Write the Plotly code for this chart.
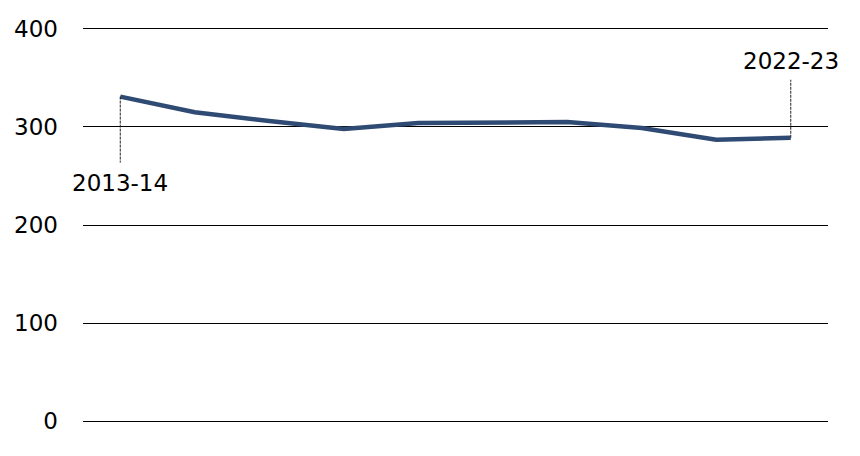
import plotly.graph_objects as go

years = ["2013-14", "2014-15", "2015-16", "2016-17", "2017-18",
         "2018-19", "2019-20", "2020-21", "2021-22", "2022-23"]
values = [331, 315, 306, 298, 304, 305, 305, 299, 287, 289]
y_ticks = [0, 100, 200, 300, 400]

line_col = "#2F4B73"
font = dict(family="DejaVu Sans, Liberation Sans, Arial, sans-serif", size=23, color="#000000")

fig = go.Figure()
fig.add_trace(go.Scatter(
    x=years, y=values, mode="lines",
    line=dict(color=line_col, width=4.5),
    hoverinfo="skip",
))

# dashed leaders for the first and last label
first, last = 0, len(years) - 1
for i, y0, y1 in [(first, 0, -66), (last, 0, 58)]:
    fig.add_shape(
        type="line", xref="x", yref="y", ysizemode="pixel",
        x0=years[i], x1=years[i], yanchor=values[i], y0=y0, y1=y1,
        line=dict(color="#222222", width=1, dash="3px,1px"),
    )

fig.add_annotation(x=years[first], y=values[first], text=years[first],
                   showarrow=False, yshift=-86, font=font)
fig.add_annotation(x=years[last], y=values[last], text=years[last],
                   showarrow=False, yshift=77, font=font)

# page has an 8px body margin all round, so the figure is drawn 16px smaller
fig.update_layout(
    width=844, height=440,
    margin=dict(l=75, r=24, t=18, b=24),
    paper_bgcolor="white", plot_bgcolor="white",
    showlegend=False,
    font=font,
)
fig.update_xaxes(type="category", range=[-0.5, len(years) - 0.5],
                 showticklabels=False, showgrid=False, zeroline=False,
                 showline=False, ticks="")
# range padded a little so the 0 and 400 grid lines are still drawn
fig.update_yaxes(range=[-3, 403], tickvals=y_ticks, showgrid=True,
                 gridcolor="#000000", gridwidth=1, zeroline=False,
                 showline=False, ticks="", ticklabelstandoff=24,
                 tickfont=font, automargin=False)

fig.write_html("out.html")
